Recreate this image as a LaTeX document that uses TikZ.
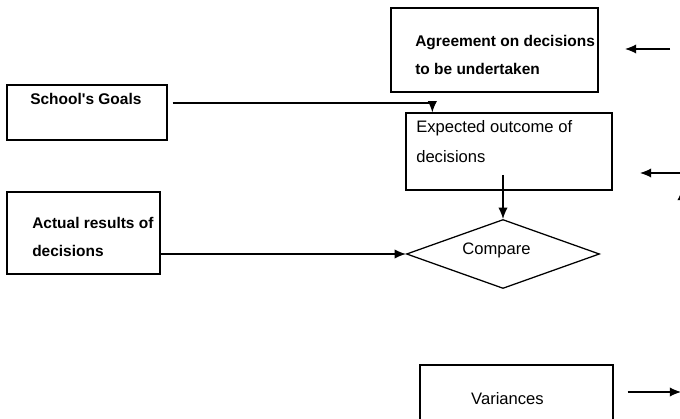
\documentclass[tikz,border=0pt]{standalone}
\usepackage{fontspec}
\setmainfont{Liberation Sans}
\usetikzlibrary{shapes.geometric,arrows.meta}

\begin{document}
\begin{tikzpicture}[x=0.025cm, y=-0.025cm,
    box/.style={draw, line width=0.9pt, inner sep=0pt},
    boldtxt/.style={inner sep=0pt, anchor=north west, align=left, font=\fontsize{11}{20}\selectfont\bfseries},
    plaintxt/.style={inner sep=0pt, align=left, font=\fontsize{11.8}{21.3}\selectfont},
    arr/.style={-{Latex[length=2.8mm,width=2.3mm]}, line width=0.75pt}]
      \useasboundingbox (0,0) rectangle (680,419);
      \node[box, minimum width=5.175cm, minimum height=2.1cm] (agr) at (494.5,50) {};
      \node[boldtxt] (agrtxt) at (415,35) {Agreement on decisions\\to be undertaken};
      \node[box, minimum width=4cm, minimum height=1.375cm] (goal) at (87,112.5) {};
      \node[boldtxt] (goaltxt) at (30,93) {School\textquotesingle s Goals};
      \node[box, minimum width=5.15cm, minimum height=1.925cm] (exp) at (509,151.5) {};
      \node[plaintxt, anchor=north west] (exptxt) at (416,120) {Expected outcome of\\decisions};
      \node[box, minimum width=3.825cm, minimum height=2.05cm] (act) at (83.5,233) {};
      \node[boldtxt] (acttxt) at (32,217) {Actual results of\\decisions};
      \node[box, diamond, minimum width=4.825cm, minimum height=1.725cm] (cmp) at (503,254) {};
      \node[plaintxt, anchor=base] (cmptxt) at (496.5,255) {Compare};
      \node[box, minimum width=4.825cm, minimum height=1.65cm] (var) at (516.5,398) {};
      \node[plaintxt, anchor=base] (vartxt) at (507.5,405) {Variances};
      \coordinate (expout) at (503,175);
      \coordinate (in1s) at (670,49);
      \coordinate (in1e) at (625,49);
      \coordinate (in2s) at (690,173);
      \coordinate (in2e) at (640,173);
      \coordinate (in3s) at (682,240);
      \coordinate (in3e) at (682,189);
      \coordinate (outv) at (681,392);
      \draw[arr] ([shift={(5,-9.5)}]goal.east) -| ([shift={(27,0)}]exp.north west);
      \draw[arr] (expout) -- (cmp.north);
      \draw[arr] (act.east |- cmp.west) -- (cmp.west);
      \draw[arr] (in1s) -- (in1e);
      \draw[arr] (in2s) -- (in2e);
      \draw[arr] (in3s) -- (in3e);
      \draw[arr] ([shift={(14,-6)}]var.east) -- (outv);
    \end{tikzpicture}
\end{document}
